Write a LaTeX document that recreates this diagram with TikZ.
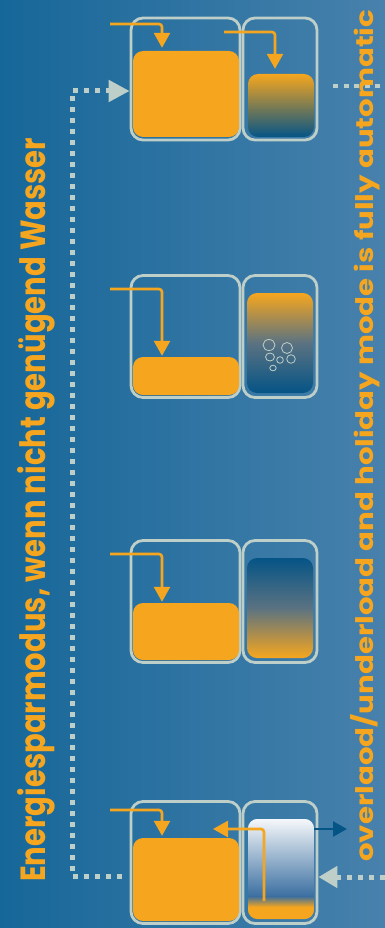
\documentclass[tikz,border=0pt]{standalone}
\usepackage{fontspec}
\setmainfont{Poppins}
\usetikzlibrary{arrows.meta,calc}
\definecolor{bgL}{RGB}{22,103,153}
\definecolor{bgR}{RGB}{72,129,172}
\definecolor{orng}{RGB}{246,166,30}
\definecolor{lgray}{RGB}{190,206,200}
\definecolor{dblue}{RGB}{5,84,134}
\definecolor{mblue}{RGB}{58,110,160}
\begin{document}
\begin{tikzpicture}[x=1pt,y=-1pt,
  outer/.style={draw=lgray, line width=2.8pt, rounded corners=12pt, inner sep=0pt},
  tank/.style={fill=orng, rounded corners=10pt, inner sep=0pt},
  feed/.style={draw=orng, line width=2.6pt, rounded corners=3pt, -{Triangle[width=16pt,length=15pt]}},
  dotline/.style={draw=lgray, line width=5pt, dash pattern=on 5pt off 6pt},
  bubble/.style={draw=lgray, line width=0.8pt},
  vlabel/.style={text=orng, font=\bfseries, rotate=90, anchor=base west, inner sep=0pt}]
\useasboundingbox (0,0) rectangle (385,928);
\shade[left color=bgL, right color=bgR] (0,0) rectangle (385,928);

% ---------- outer boxes ----------
\node[outer, minimum width=109pt, minimum height=122pt] (o1l) at (185.5,79) {};
\node[outer, minimum width=74pt, minimum height=122pt] (o1r) at (280,79) {};
\node[outer, minimum width=109pt, minimum height=122pt] (o2l) at (185.5,336.5) {};
\node[outer, minimum width=74pt, minimum height=122pt] (o2r) at (280,336.5) {};
\node[outer, minimum width=109pt, minimum height=122pt] (o3l) at (185.5,601.5) {};
\node[outer, minimum width=74pt, minimum height=122pt] (o3r) at (280,601.5) {};
\node[outer, minimum width=109pt, minimum height=122pt] (o4l) at (185.5,862.5) {};
\node[outer, minimum width=74pt, minimum height=122pt] (o4r) at (280,862.5) {};

% ---------- tanks ----------
\node[tank, minimum width=106pt, minimum height=86pt] (t1l) at (186,94) {};
\node[tank, fill=none, top color=orng, bottom color=dblue, minimum width=66pt, minimum height=63pt] (t1r) at (281,105.5) {};
\node[tank, minimum width=106pt, minimum height=38pt] (t2l) at (186,376) {};
\node[tank, fill=none, top color=orng, bottom color=dblue, middle color=gray!70!dblue, minimum width=66pt, minimum height=100pt] (t2r) at (280,343) {};
\node[tank, minimum width=106pt, minimum height=57pt] (t3l) at (186,631.5) {};
\node[tank, fill=none, top color=dblue, bottom color=orng, middle color=gray!70!dblue, minimum width=66pt, minimum height=100pt] (t3r) at (280,608) {};
\node[tank, minimum width=106pt, minimum height=83pt] (t4l) at (186,879.5) {};
\node[inner sep=0pt, minimum width=66pt, minimum height=100pt] (t4r) at (281,869) {};
\begin{scope}
  \clip[rounded corners=10pt] (t4r.north west) rectangle (t4r.south east);
  \shade[top color=white!95!mblue, bottom color=mblue] (248,819) rectangle (314,897);
  \shade[top color=mblue, bottom color=orng] (248,896) rectangle (314,907);
  \fill[orng] (248,906.5) rectangle (314,920);
\end{scope}

% ---------- bubbles ----------
\draw[bubble] (269,345) ellipse (6pt and 5.5pt);
\draw[bubble] (287,348) ellipse (5.5pt and 5.5pt);
\draw[bubble] (270,357) ellipse (4.5pt and 4pt);
\draw[bubble] (280,360) circle (3.3pt);
\draw[bubble] (291,359) ellipse (4.3pt and 4.3pt);
\draw[bubble] (273,368) ellipse (3.2pt and 2.8pt);

% ---------- feed arrows ----------
\coordinate (f1) at (110,24);
\coordinate (g1) at (224,32);
\coordinate (f2) at (110,289);
\coordinate (f3) at (110,554);
\coordinate (f4) at (110,810);
\coordinate (r4) at (213,829);
\coordinate (b4) at (347,829);
\draw[feed] (f1) -| ([xshift=-24pt,yshift=3pt]t1l.north);
\draw[feed] (g1) -| ([xshift=-6pt,yshift=5pt]t1r.north);
\draw[feed] (f2) -| ([xshift=-24pt,yshift=1pt]t2l.north);
\draw[feed] (f3) -| ([xshift=-24pt,yshift=1pt]t3l.north);
\draw[feed] (f4) -| ([xshift=-24pt,yshift=2pt]t4l.north);
\draw[feed] ([xshift=-17pt,yshift=18pt]t4r.south) |- (r4);
\draw[draw=dblue, line width=2.6pt, -{Triangle[width=15pt,length=14pt]}] (t4r.east |- r4) -- (b4);

% ---------- dotted connectors ----------
\coordinate (d1) at (122,876);
\coordinate (dl) at (72,876);
\draw[dotline, -{Triangle[width=21pt,length=21pt]}] (d1) -- (dl) |- ([yshift=-12pt]o1l.west);
\coordinate (d2) at (385,877);
\draw[dotline, -{Triangle[width=21pt,length=19pt]}] (d2) -- ([yshift=-14.5pt]o4r.east);
\coordinate (d3s) at (333,86);
\coordinate (d3e) at (385,86);
\draw[draw=lgray, line width=4pt, dash pattern=on 5pt off 5.5pt] (d3s) -- (d3e);

% ---------- labels ----------
\node[vlabel] (lt) at (45,882) {\resizebox{744pt}{28pt}{Energiesparmodus, wenn nicht genügend Wasser}};
\node[vlabel] (rt) at (373,862) {\resizebox{852pt}{23pt}{overlaod/underload and holiday mode is fully automatic}};
\end{tikzpicture}
\end{document}
